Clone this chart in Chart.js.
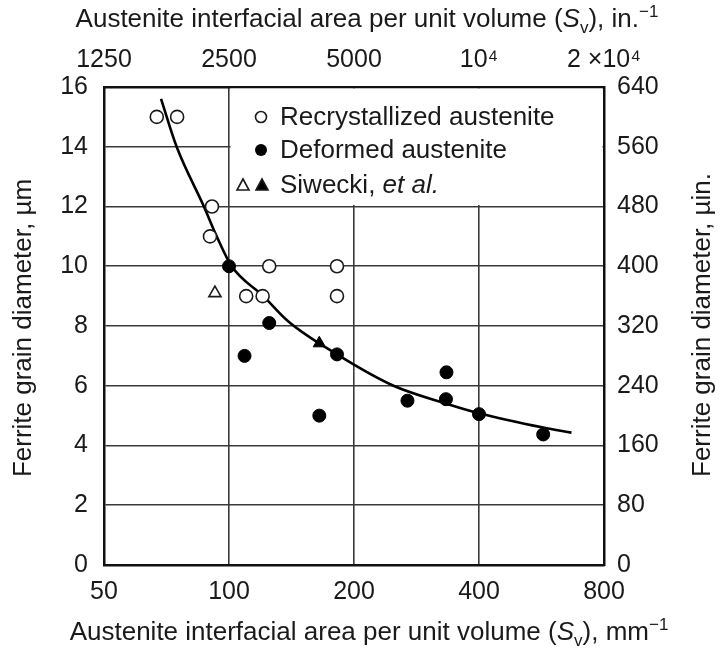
<!DOCTYPE html>
<html>
<head>
<meta charset="utf-8">
<title>Ferrite grain diameter vs austenite Sv</title>
<script src="https://cdn.jsdelivr.net/npm/chart.js"></script>
<style>
    body { margin: 0; background: #fff; }
</style>
</head>
<body>
<canvas id="myChart" width="720" height="650"></canvas>
<script>
// axis ticks
var xTicks = [50, 100, 200, 400, 800];                 // mm^-1
var xTopTicks = [1250, 2500, 5000, 10000, 20000];      // in.^-1
var xTopLabels = ['1250', '2500', '5000', '10\u2074', '2 \u00d710\u2074'];
var yTicks = [0, 2, 4, 6, 8, 10, 12, 14, 16];          // um
var yRightTicks = [0, 80, 160, 240, 320, 400, 480, 560, 640]; // uin.

// recrystallized austenite (open circles)
var recrystX = [67, 75, 91, 90, 125, 182, 110, 120.5, 182];
var recrystY = [15, 15, 12, 11, 10, 10, 9, 9, 9];
// deformed austenite (filled circles)
var deformedX = [100, 125, 109, 182, 165, 269, 333, 334, 400, 571];
var deformedY = [10, 8.1, 7, 7.05, 5, 5.5, 5.55, 6.45, 5.05, 4.37];
// Siwecki et al.
var siweckiOpenX = [92.5];
var siweckiOpenY = [9.1];
var siweckiFilledX = [165];
var siweckiFilledY = [7.42];
// fitted curve
var curveX = [68.6, 74.8, 87, 93.4, 101.5, 121, 139, 182, 249, 334, 400, 571, 668];
var curveY = [15.6, 14.0, 12.0, 11.0, 10.0, 9.0, 8.15, 7.05, 6.0, 5.4, 5.08, 4.6, 4.43];

var FONT = "'Liberation Sans', Arial, Helvetica, sans-serif";
var INK = '#1a1a1a';

function pts(xs, ys) {
    return xs.map(function (v, i) { return { x: v, y: ys[i] }; });
}

// draws a run of text pieces [text, font, dy] centred on cx
function drawRich(ctx, parts, cx, y) {
    var total = 0;
    parts.forEach(function (p) { ctx.font = p[1]; total += ctx.measureText(p[0]).width; });
    var x = cx - total / 2;
    parts.forEach(function (p) {
        ctx.font = p[1];
        ctx.fillText(p[0], x, y + (p[2] || 0));
        x += ctx.measureText(p[0]).width;
    });
}

var big = '26px ' + FONT, ital = 'italic 26px ' + FONT, small = '17px ' + FONT;

var titlesPlugin = {
    id: 'titles',
    afterDraw: function (chart) {
        var ctx = chart.ctx;
        ctx.save();
        ctx.fillStyle = INK;
        ctx.textBaseline = 'alphabetic';
        ctx.textAlign = 'left';
        drawRich(ctx, [['Austenite interfacial area per unit volume (', big], ['S', ital], ['v', small, 6],
            ['), in.', big], ['\u22121', small, -10]], 367, 27);
        drawRich(ctx, [['Austenite interfacial area per unit volume (', big], ['S', ital], ['v', small, 6],
            ['), mm', big], ['\u22121', small, -10]], 369, 640);
        ctx.save();
        ctx.translate(31, 328);
        ctx.rotate(-Math.PI / 2);
        drawRich(ctx, [['Ferrite grain diameter, \u00b5m', big]], 0, 0);
        ctx.restore();
        ctx.save();
        ctx.translate(710, 325);
        ctx.rotate(-Math.PI / 2);
        drawRich(ctx, [['Ferrite grain diameter, \u00b5in.', big]], 0, 0);
        ctx.restore();
        ctx.restore();
    }
};

var legendPlugin = {
    id: 'boxLegend',
    beforeDatasetsDraw: function (chart) {
        var ctx = chart.ctx, a = chart.chartArea;
        var x0 = chart.scales.x.getPixelForValue(100), y1 = chart.scales.y.getPixelForValue(12);
        ctx.save();
        ctx.fillStyle = '#fff';
        ctx.fillRect(x0 + 1.5, a.top + 1.5, a.right - x0 - 3, y1 - a.top - 3);
        ctx.strokeStyle = INK;
        ctx.lineWidth = 1.6;
        var mx = a.left + 157;
        var rows = [a.top + 30, a.top + 63, a.top + 98];
        ctx.beginPath(); ctx.arc(mx, rows[0], 5.5, 0, Math.PI * 2);
        ctx.fillStyle = '#fff'; ctx.fill(); ctx.stroke();
        ctx.beginPath(); ctx.arc(mx, rows[1], 6, 0, Math.PI * 2);
        ctx.fillStyle = '#000'; ctx.fill();
        function tri(cx, cy, fill) {
            ctx.beginPath();
            ctx.moveTo(cx, cy - 6); ctx.lineTo(cx + 6, cy + 5); ctx.lineTo(cx - 6, cy + 5); ctx.closePath();
            ctx.fillStyle = fill; ctx.fill(); ctx.stroke();
        }
        tri(mx - 18, rows[2], '#fff');
        tri(mx + 1, rows[2], '#000');
        ctx.fillStyle = INK;
        ctx.textBaseline = 'middle';
        ctx.textAlign = 'left';
        ctx.font = big;
        var tx = a.left + 176;
        ctx.fillText('Recrystallized austenite', tx, rows[0] + 1);
        ctx.fillText('Deformed austenite', tx, rows[1] + 1);
        ctx.fillText('Siwecki, ', tx, rows[2] + 1);
        var w = ctx.measureText('Siwecki, ').width;
        ctx.font = ital;
        ctx.fillText('et al.', tx + w, rows[2] + 1);
        ctx.restore();
    }
};

var tickFont = { family: FONT, size: 25 };
var gridStyle = { color: '#3a3a3a', lineWidth: 1.6, drawTicks: false };
var borderStyle = { color: '#111', width: 2.5 };

var ctx = document.getElementById('myChart').getContext('2d');
new Chart(ctx, {
    type: 'scatter',
    data: {
        datasets: [
            {
                label: 'Recrystallized austenite',
                data: pts(recrystX, recrystY),
                pointStyle: 'circle', pointRadius: 6.5,
                backgroundColor: '#fff', borderColor: INK, borderWidth: 1.6,
                order: 1
            },
            {
                label: 'Deformed austenite',
                data: pts(deformedX, deformedY),
                pointStyle: 'circle', pointRadius: 6.5,
                backgroundColor: '#000', borderColor: '#000', borderWidth: 1,
                order: 1
            },
            {
                label: 'Siwecki, et al. (recrystallized)',
                data: pts(siweckiOpenX, siweckiOpenY),
                pointStyle: 'triangle', pointRadius: 7,
                backgroundColor: '#fff', borderColor: INK, borderWidth: 1.6,
                order: 1
            },
            {
                label: 'Siwecki, et al. (deformed)',
                data: pts(siweckiFilledX, siweckiFilledY),
                pointStyle: 'triangle', pointRadius: 7,
                backgroundColor: '#000', borderColor: '#000', borderWidth: 1,
                order: 1
            },
            {
                type: 'line',
                label: 'fit',
                data: pts(curveX, curveY),
                borderColor: '#000', borderWidth: 2.6,
                pointRadius: 0, fill: false,
                cubicInterpolationMode: 'monotone',
                order: 5
            }
        ]
    },
    options: {
        responsive: false,
        animation: false,
        layout: { padding: 0 },
        plugins: { legend: { display: false }, tooltip: { enabled: false } },
        scales: {
            x: {
                type: 'logarithmic', position: 'bottom', min: 50, max: 800,
                afterBuildTicks: function (s) { s.ticks = xTicks.map(function (v) { return { value: v }; }); },
                afterFit: function (s) { s.height = 85; },
                ticks: { color: INK, font: tickFont, padding: 12, maxRotation: 0, autoSkip: false,
                    callback: function (v) { return String(v); } },
                grid: gridStyle, border: borderStyle
            },
            xTop: {
                type: 'logarithmic', position: 'top', min: 1250, max: 20000,
                afterBuildTicks: function (s) { s.ticks = xTopTicks.map(function (v) { return { value: v }; }); },
                afterFit: function (s) { s.height = 87; },
                ticks: { color: INK, font: tickFont, padding: 12, maxRotation: 0, autoSkip: false,
                    callback: function (v, i) { return xTopLabels[i]; } },
                grid: { drawOnChartArea: false, drawTicks: false }, border: borderStyle
            },
            y: {
                type: 'linear', position: 'left', min: 0, max: 16,
                afterBuildTicks: function (s) { s.ticks = yTicks.map(function (v) { return { value: v }; }); },
                afterFit: function (s) { s.width = 104; },
                ticks: { color: INK, font: tickFont, padding: 16 },
                grid: gridStyle, border: borderStyle
            },
            yRight: {
                type: 'linear', position: 'right', min: 0, max: 640,
                afterBuildTicks: function (s) { s.ticks = yRightTicks.map(function (v) { return { value: v }; }); },
                afterFit: function (s) { s.width = 116; },
                ticks: { color: INK, font: tickFont, padding: 13 },
                grid: { drawOnChartArea: false, drawTicks: false }, border: borderStyle
            }
        }
    },
    plugins: [legendPlugin, titlesPlugin]
});
</script>
</body>
</html>
